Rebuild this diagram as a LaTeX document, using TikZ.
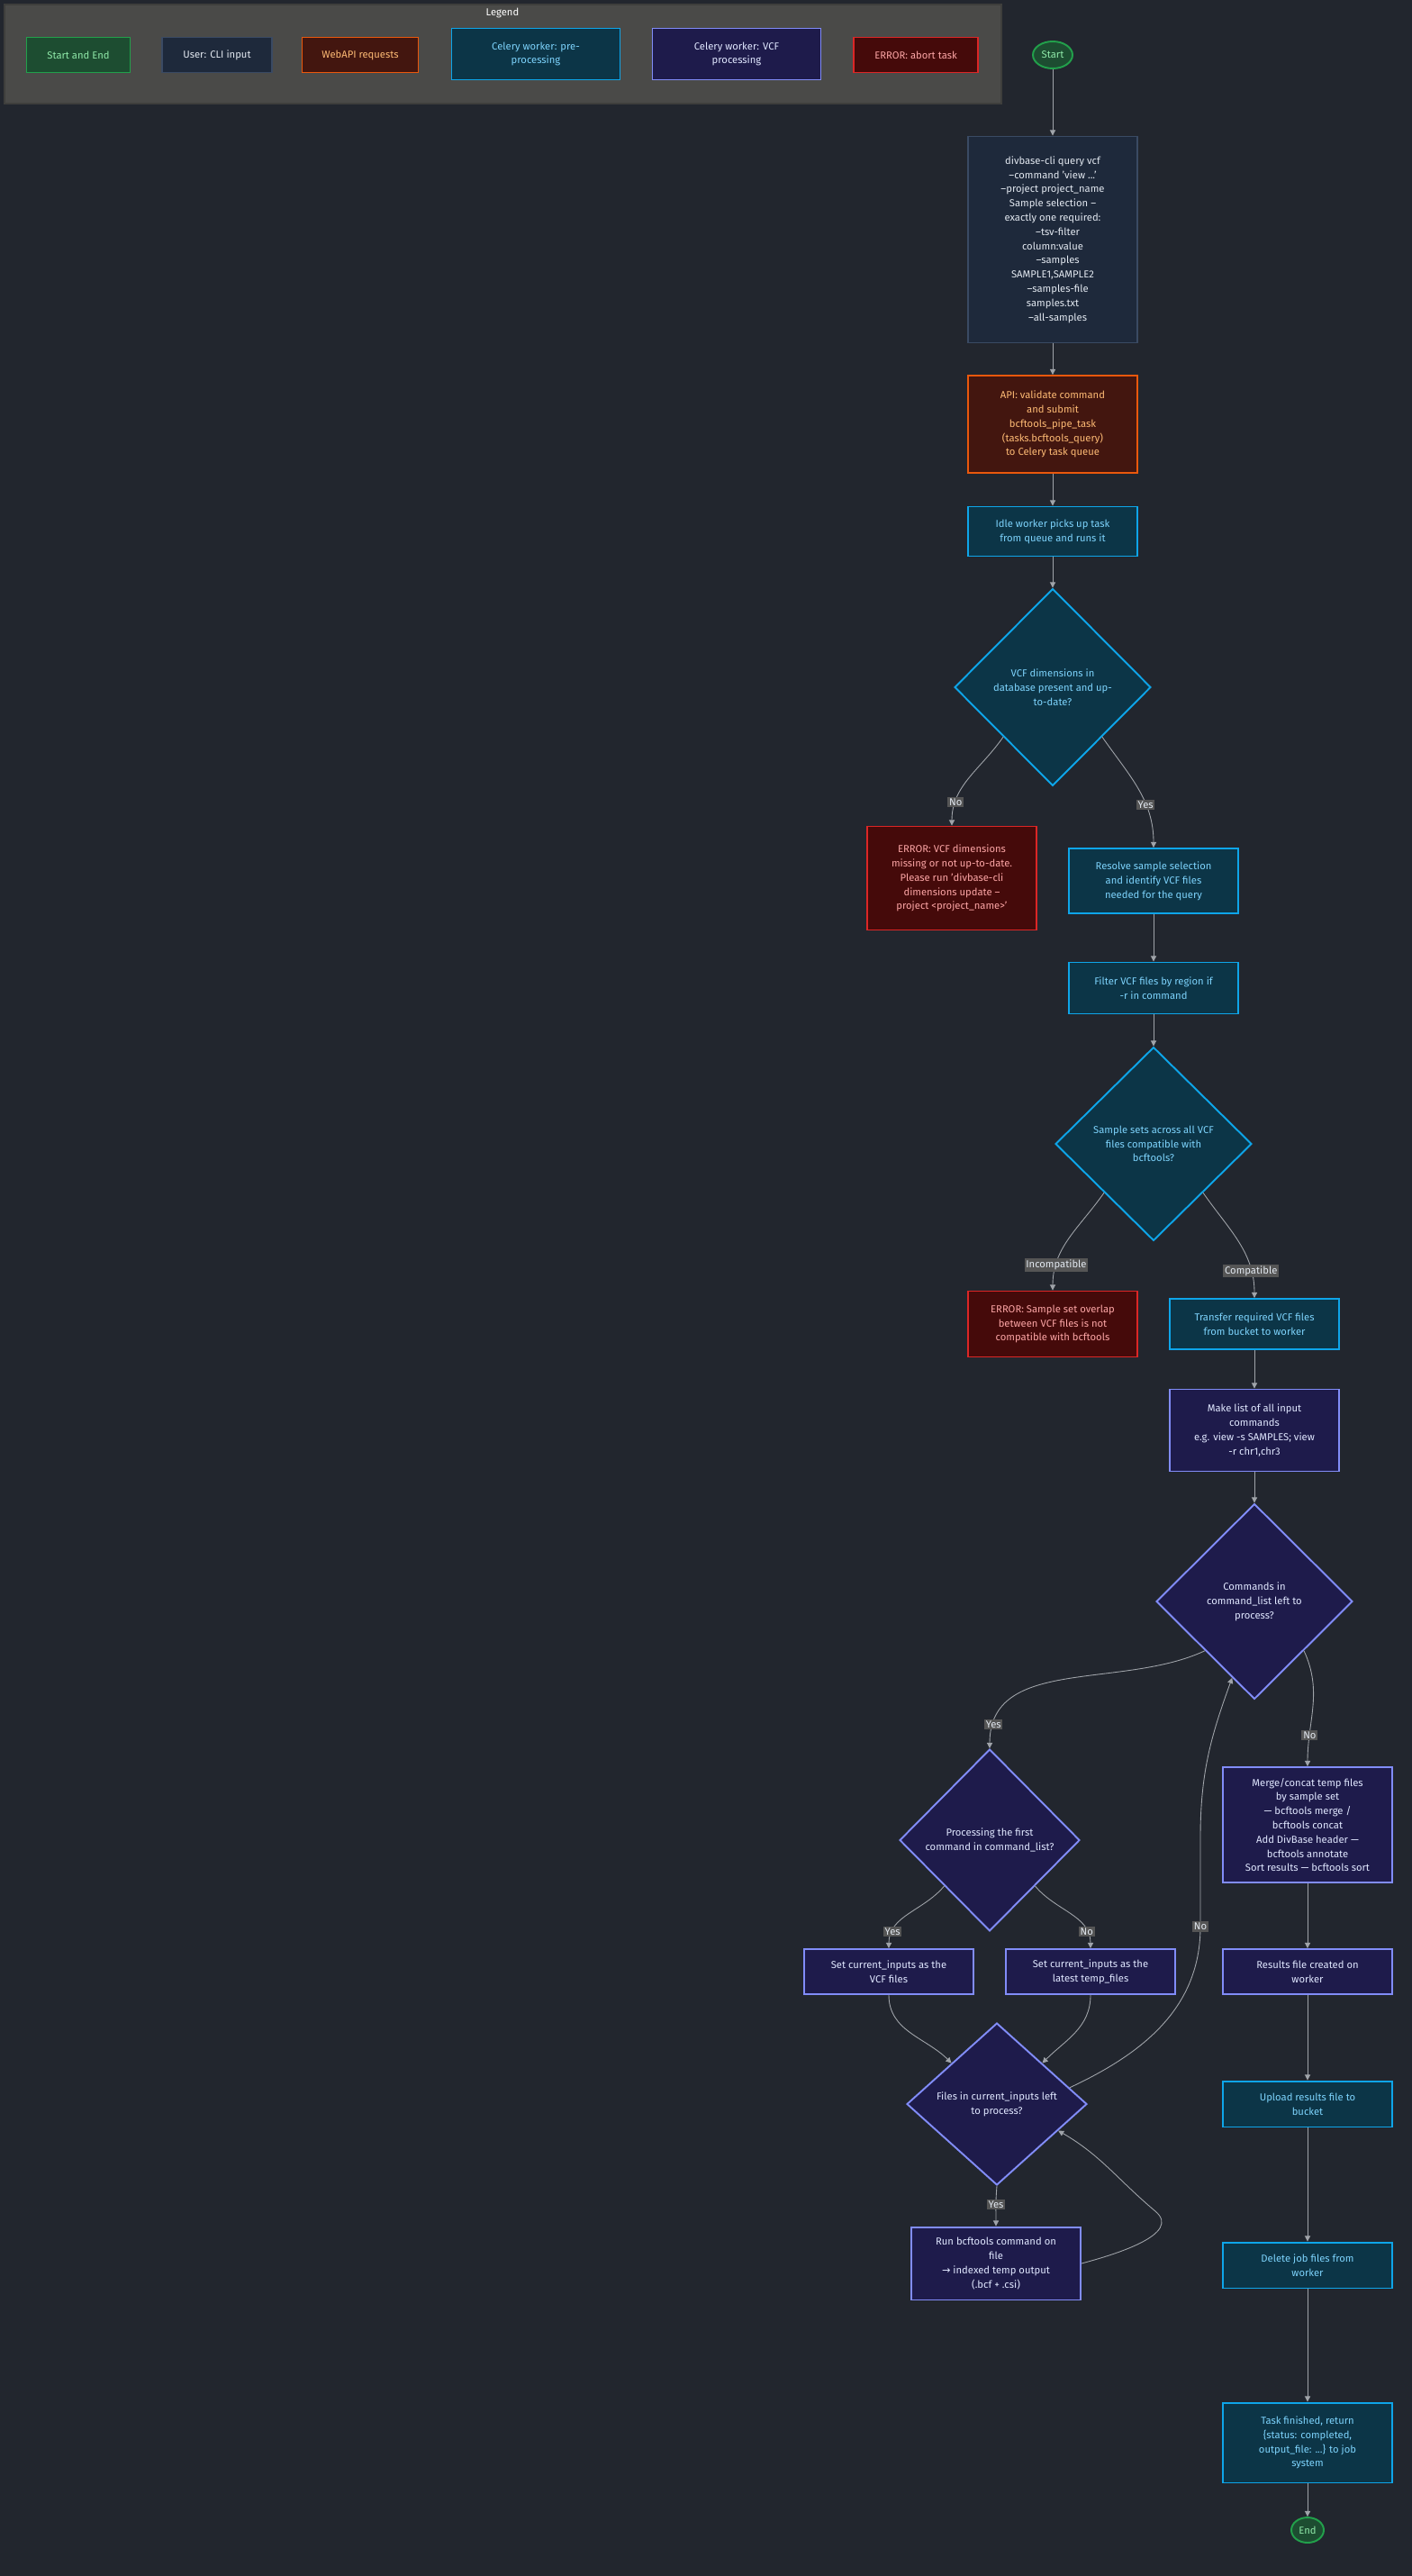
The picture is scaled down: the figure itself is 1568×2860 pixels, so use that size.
\documentclass[tikz,border=0pt]{standalone}
\usepackage{fontspec}
\setmainfont{Fira Sans}
\usetikzlibrary{arrows.meta,positioning,shapes.geometric,calc}
\definecolor{bgdark}{HTML}{22262E}
\definecolor{lgfill}{HTML}{4A4A48}
\definecolor{lgline}{HTML}{3E3E3C}
\definecolor{sefill}{HTML}{1D4D31}
\definecolor{seline}{HTML}{22A04B}
\definecolor{setext}{HTML}{8FE8A8}
\definecolor{clifill}{HTML}{1E293B}
\definecolor{cliline}{HTML}{3A4A63}
\definecolor{clitext}{HTML}{E2E8F0}
\definecolor{apifill}{HTML}{43160F}
\definecolor{apiline}{HTML}{EA580C}
\definecolor{apitext}{HTML}{FDBA74}
\definecolor{prefill}{HTML}{0C3547}
\definecolor{preline}{HTML}{0EA5E9}
\definecolor{pretext}{HTML}{7DD3FC}
\definecolor{vcffill}{HTML}{1E1B4B}
\definecolor{vcfline}{HTML}{818CF8}
\definecolor{vcftext}{HTML}{E0E7FF}
\definecolor{errfill}{HTML}{450A0A}
\definecolor{errline}{HTML}{DC2626}
\definecolor{errtext}{HTML}{FCA5A5}
\definecolor{edgegray}{HTML}{A0A4AA}
\definecolor{lblfill}{HTML}{555555}

\begin{document}
\begin{tikzpicture}[x=0.02cm, y=-0.02cm,
  every node/.style={font=\fontsize{6.4}{9}\selectfont, align=center},
  box/.style={rectangle, line width=1.1pt, minimum width=3.76cm, inner sep=2pt},
  startend/.style={box, fill=sefill, draw=seline, text=setext},
  cli/.style={box, fill=clifill, draw=cliline, text=clitext},
  api/.style={box, fill=apifill, draw=apiline, text=apitext},
  pre/.style={box, fill=prefill, draw=preline, text=pretext},
  vcf/.style={box, fill=vcffill, draw=vcfline, text=vcftext},
  err/.style={box, fill=errfill, draw=errline, text=errtext},
  term/.style={ellipse, line width=1.1pt, fill=sefill, draw=seline, text=setext, inner sep=1pt},
  dec/.style={diamond, line width=1.1pt, aspect=1, inner sep=0pt},
  flow/.style={draw=edgegray, line width=0.5pt, -{Triangle[length=3.5pt,width=3.5pt]}},
  lbl/.style={fill=lblfill, text=clitext, inner sep=1pt}]

\fill[bgdark] (0,0) rectangle (1568,2860);
\useasboundingbox (0,0) rectangle (1568,2860);

% legend
\draw[fill=lgfill, draw=lgline, line width=0.8pt] (5,5) rectangle (1112,115);
\node[text=white] (lgtitle) at (558,14) {Legend};
\node[startend, minimum width=2.3cm, minimum height=0.78cm] (lgse) at (87,61) {Start and End};
\node[cli, minimum width=2.44cm, minimum height=0.78cm] (lgcli) at (241,61) {User: CLI input};
\node[api, minimum width=2.58cm, minimum height=0.78cm] (lgapi) at (400,61) {WebAPI requests};
\node[pre, minimum width=3.74cm, minimum height=1.14cm] (lgpre) at (595,60) {Celery worker: pre-\\processing};
\node[vcf, minimum width=3.74cm, minimum height=1.14cm] (lgvcf) at (818,60) {Celery worker: VCF\\processing};
\node[err, minimum width=2.76cm, minimum height=0.78cm] (lgerr) at (1017,61) {ERROR: abort task};

% main column
\node[term, minimum width=0.88cm, minimum height=0.6cm] (start) at (1169,61) {Start};
\node[cli, minimum height=4.58cm] (cmd) at (1169,266) {divbase-cli query vcf\\--command 'view ...'\\--project project\_name\\Sample selection --\\exactly one required:\\\quad--tsv-filter\\column:value\\\quad--samples\\SAMPLE1,SAMPLE2\\\quad--samples-file\\samples.txt\\\quad--all-samples};
\node[api, minimum height=2.16cm] (submit) at (1169,471) {API: validate command\\and submit\\bcftools\_pipe\_task\\(tasks.bcftools\_query)\\to Celery task queue};
\node[pre, minimum height=1.1cm] (pickup) at (1169,590) {Idle worker picks up task\\from queue and runs it};
\node[dec, fill=prefill, draw=preline, text=pretext, minimum width=4.36cm, minimum height=4.38cm] (dimchk) at (1169,763) {VCF dimensions in\\database present and up-\\to-date?};
\node[err, minimum height=2.3cm] (dimerr) at (1057,975) {ERROR: VCF dimensions\\missing or not up-to-date.\\Please run 'divbase-cli\\dimensions update --\\project <project\_name>'};
\node[pre, minimum height=1.44cm] (resolve) at (1281,978) {Resolve sample selection\\and identify VCF files\\needed for the query};
\node[pre, minimum height=1.14cm] (region) at (1281,1097) {Filter VCF files by region if\\-r in command};
\node[dec, fill=prefill, draw=preline, text=pretext, minimum width=4.36cm, minimum height=4.3cm] (compat) at (1281,1270) {Sample sets across all VCF\\files compatible with\\bcftools?};
\node[err, minimum height=1.46cm] (comperr) at (1169,1470) {ERROR: Sample set overlap\\between VCF files is not\\compatible with bcftools};
\node[pre, minimum height=1.12cm] (transfer) at (1393,1470) {Transfer required VCF files\\from bucket to worker};
\node[vcf, minimum height=1.82cm] (cmdlist) at (1393,1588) {Make list of all input\\commands\\e.g. view -s SAMPLES; view\\-r chr1,chr3};
\node[dec, fill=vcffill, draw=vcfline, text=vcftext, minimum width=4.36cm, minimum height=4.34cm] (cmdleft) at (1393,1778) {Commands in\\command\_list left to\\process?};
\node[dec, fill=vcffill, draw=vcfline, text=vcftext, minimum width=4cm, minimum height=4.04cm] (first) at (1099,2043) {Processing the first\\command in command\_list?};
\node[vcf, minimum height=1cm] (setvcf) at (987,2189) {Set current\_inputs as the\\VCF files};
\node[vcf, minimum height=1cm] (settemp) at (1211,2189) {Set current\_inputs as the\\latest temp\_files};
\node[dec, fill=vcffill, draw=vcfline, text=vcftext, aspect=1.1, minimum width=4cm, minimum height=3.6cm] (filesleft) at (1107,2336) {Files in current\_inputs left\\to process?};
\node[vcf, minimum height=1.62cm] (runbcf) at (1106,2513) {Run bcftools command on\\file\\{\fontspec{DejaVu Sans}→} indexed temp output\\(.bcf + .csi)};
\node[vcf, minimum height=2.56cm] (merge) at (1452,2026) {Merge/concat temp files\\by sample set\\--- bcftools merge /\\bcftools concat\\Add DivBase header ---\\bcftools annotate\\Sort results --- bcftools sort};
\node[vcf, minimum height=1cm] (results) at (1452,2189) {Results file created on\\worker};
\node[pre, minimum height=1.02cm] (upload) at (1452,2336) {Upload results file to\\bucket};
\node[pre, minimum height=1.02cm] (cleanup) at (1452,2515) {Delete job files from\\worker};
\node[pre, minimum height=1.78cm] (finish) at (1452,2712) {Task finished, return\\\{status: completed,\\output\_file: ...\} to job\\system};
\node[term, minimum width=0.72cm, minimum height=0.56cm] (end) at (1452,2809) {End};

% connectors
\draw[flow] (start) -- (cmd);
\draw[flow] (cmd) -- (submit);
\draw[flow] (submit) -- (pickup);
\draw[flow] (pickup) -- (dimchk);
\draw[flow] (dimchk.south west) to[out=-125,in=90] node[lbl, pos=0.78] {No} (dimerr.north);
\draw[flow] (dimchk.south east) to[out=-55,in=90] node[lbl, pos=0.65] {Yes} (resolve.north);
\draw[flow] (resolve) -- (region);
\draw[flow] (region) -- (compat);
\draw[flow] (compat.south west) to[out=-125,in=90] node[lbl, pos=0.78] {Incompatible} (comperr.north);
\draw[flow] (compat.south east) to[out=-55,in=90] node[lbl, pos=0.78] {Compatible} (transfer.north);
\draw[flow] (transfer) -- (cmdlist);
\draw[flow] (cmdlist) -- (cmdleft);
\draw[flow] (cmdleft.south west) to[out=-155,in=90] node[lbl, pos=0.9] {Yes} (first.north);
\draw[flow] (cmdleft.south east) to[out=-65,in=90] node[lbl, pos=0.75] {No} (merge.north);
\draw[flow] (first.south west) to[out=-130,in=90] node[lbl, pos=0.8] {Yes} (setvcf.north);
\draw[flow] (first.south east) to[out=-50,in=90] node[lbl, pos=0.8] {No} (settemp.north);
\draw[flow] (setvcf.south) to[out=-90,in=135] (filesleft.north west);
\draw[flow] (settemp.south) to[out=-90,in=45] (filesleft.north east);
\coordinate (loopup) at (1333,2139);
\draw[flow] ($(filesleft.north east)!0.6!(filesleft.east)$) to[out=25,in=-90] (loopup) node[lbl] {No} -- (1333,2040) to[out=90,in=-110] ($(cmdleft.south west)!0.55!(cmdleft.south)$);
\draw[flow] (filesleft.south) to[out=-95,in=90] node[lbl, pos=0.45] {Yes} (runbcf.north);
\draw[flow] (runbcf.east) to[out=15,in=-40] (1283,2455) to[out=140,in=-30] ($(filesleft.south east)!0.35!(filesleft.east)$);
\draw[flow] (merge) -- (results);
\draw[flow] (results) -- (upload);
\draw[flow] (upload) -- (cleanup);
\draw[flow] (cleanup) -- (finish);
\draw[flow] (finish) -- (end);
\end{tikzpicture}
\end{document}
